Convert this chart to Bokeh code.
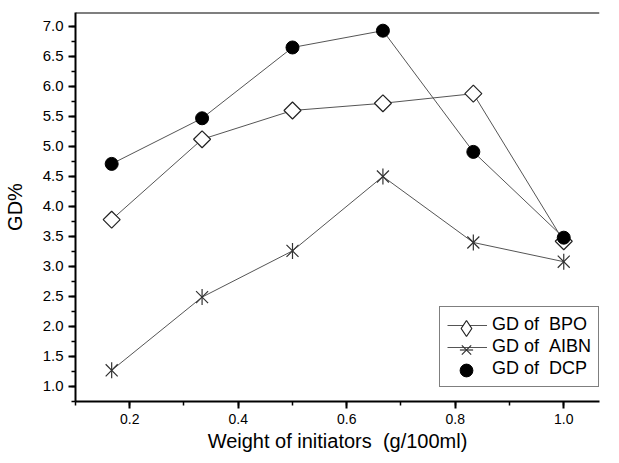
from bokeh.plotting import figure
from bokeh.models import (Range1d, Legend, LegendItem, Span,
                          SingleIntervalTicker, PrintfTickFormatter)
from bokeh.embed import file_html
from bokeh.resources import INLINE
import math

# Data
weights = [1/6, 2/6, 3/6, 4/6, 5/6, 1.0]
gd_bpo = [3.78, 5.12, 5.60, 5.72, 5.88, 3.42]
gd_aibn = [1.27, 2.49, 3.26, 4.50, 3.40, 3.08]
gd_dcp = [4.71, 5.47, 6.65, 6.93, 4.91, 3.48]
series_labels = ["GD of\u00a0\u00a0BPO", "GD of\u00a0\u00a0AIBN", "GD of\u00a0\u00a0DCP"]
x_title = "Weight of initiators\u00a0\u00a0(g/100ml)"
y_title = "GD%"

FONT = "Liberation Sans"
LINE_COLOR = "#555555"
NAN = float("nan")

Y_END = 7.233
p = figure(frame_width=524, frame_height=389, output_backend="svg", toolbar_location=None,
           x_range=Range1d(0.1, 1.0659), y_range=Range1d(0.75, Y_END),
           min_border_left=71, min_border_right=8, min_border_top=12,
           min_border_bottom=54, x_axis_label=x_title, y_axis_label=y_title)
p.outline_line_color = None
p.grid.visible = False
p.background_fill_color = "white"
p.border_fill_color = "white"

for ax in (p.xaxis[0], p.yaxis[0]):
    ax.axis_line_width = 2
    ax.axis_line_color = "black"
    ax.major_tick_line_width = 2
    ax.minor_tick_line_width = 1.5
    ax.major_tick_in = 0
    ax.major_tick_out = 7
    ax.minor_tick_in = 0
    ax.minor_tick_out = 4
    ax.major_label_text_font = FONT
    ax.major_label_text_color = "black"
    ax.axis_label_text_font = FONT
    ax.axis_label_text_font_style = "normal"
    ax.axis_label_text_font_size = "20px"
    ax.axis_label_text_color = "black"
    ax.formatter = PrintfTickFormatter(format="%.1f")

p.xaxis[0].ticker = SingleIntervalTicker(interval=0.2, num_minor_ticks=2)
p.xaxis[0].major_label_text_font_size = "14px"
p.xaxis[0].major_label_standoff = 5
p.xaxis[0].axis_label_standoff = 3
p.yaxis[0].ticker = SingleIntervalTicker(interval=0.5, num_minor_ticks=2)
p.yaxis[0].major_label_text_font_size = "15px"
p.yaxis[0].major_label_standoff = 5
p.yaxis[0].axis_label_standoff = 14

# top frame line
p.add_layout(Span(location=Y_END, dimension="width", line_color="black", line_width=2))

# Series
l_bpo = p.line(weights, gd_bpo, line_color=LINE_COLOR, line_width=1)
m_bpo = p.scatter(weights, gd_bpo, marker="square", size=12, angle=math.pi/4,
                  fill_color="white", line_color="#222222", line_width=1.2)

l_aibn = p.line(weights, gd_aibn, line_color=LINE_COLOR, line_width=1)
m_aibn1 = p.scatter(weights, gd_aibn, marker="x", size=17,
                    line_color="#333333", line_width=1.2)
m_aibn2 = p.scatter(weights, gd_aibn, marker="dash", size=16, angle=math.pi/2,
                    line_color="#333333", line_width=1.2)

l_dcp = p.line(weights, gd_dcp, line_color=LINE_COLOR, line_width=1)
m_dcp = p.scatter(weights, gd_dcp, marker="circle", size=13,
                  fill_color="black", line_color="black")

# legend-only glyphs (no visible data)
leg_bpo = p.scatter([NAN], [NAN], marker="diamond", fill_color="white",
                    line_color="#222222", line_width=1.2)
leg_aibn1 = p.scatter([NAN], [NAN], marker="x", line_color="#333333", line_width=1.2)
leg_aibn2 = p.scatter([NAN], [NAN], marker="dash", line_color="#333333", line_width=1.2)
leg_dcp = p.scatter([NAN], [NAN], marker="circle", fill_color="black", line_color="black")
leg_none = p.line([NAN], [NAN], line_alpha=0)

LX, LY, PAD, GH, SP = 364, 14, 7, 20, 1
legend = Legend(items=[
    LegendItem(label=series_labels[0], renderers=[l_bpo]),
    LegendItem(label=series_labels[1], renderers=[l_aibn]),
    LegendItem(label=series_labels[2], renderers=[leg_none]),
], location=(LX, LY))
legend.label_text_font = FONT
legend.label_text_font_size = "18px"
legend.label_text_color = "black"
legend.glyph_width = 40
legend.glyph_height = GH
legend.label_height = GH
legend.spacing = SP
legend.padding = PAD
legend.label_standoff = 5
legend.border_line_color = "black"
legend.border_line_width = 1
legend.background_fill_alpha = 1
legend.margin = 0
p.add_layout(legend, "center")

row_centers = [LY + PAD + GH / 2 + k * (GH + SP) for k in (2, 1, 0)]
marker_sets = [([leg_bpo], 40), ([leg_aibn1, leg_aibn2], 33), ([leg_dcp], 32)]
for (rends, g), c in zip(marker_sets, row_centers):
    ml = Legend(items=[LegendItem(label="\u00a0", renderers=rends)],
                location=(LX + PAD, c - g / 2))
    ml.glyph_width = 40
    ml.glyph_height = g
    ml.label_height = 1
    ml.label_standoff = 0
    ml.label_text_font_size = "1px"
    ml.padding = 0
    ml.margin = 0
    ml.spacing = 0
    ml.border_line_alpha = 0
    ml.background_fill_alpha = 0
    p.add_layout(ml, "center")

open("out.html", "w").write(file_html(p, INLINE))
